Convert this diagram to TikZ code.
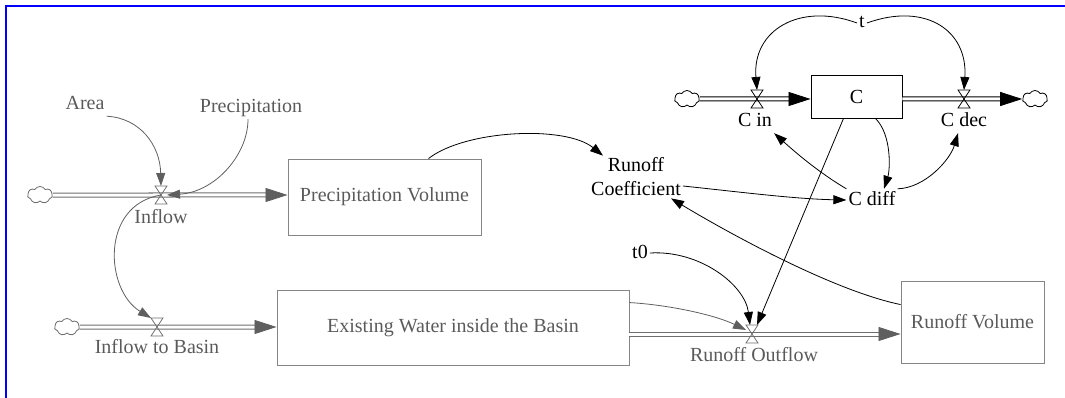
\documentclass[tikz,border=0pt]{standalone}
\usepackage{fontspec}
\setmainfont{Liberation Serif}
\usetikzlibrary{arrows.meta,shapes.symbols}
\definecolor{tgray}{HTML}{5A5A5A}
\definecolor{lgray}{HTML}{5F5F5F}
\definecolor{bgray}{HTML}{858585}
\definecolor{pgray}{HTML}{6E6E6E}
\definecolor{frameblue}{HTML}{0000FF}
\newcommand\lbfont{\fontsize{20}{24}\selectfont}
\begin{document}
\begin{tikzpicture}[x=1pt,y=-1pt,
 lbl/.style={font=\lbfont, text height=14pt, text depth=4pt, inner sep=2pt},
 glbl/.style={lbl, text=tgray},
 twoline/.style={font=\lbfont, inner sep=2pt, align=center},
 stockg/.style={draw=bgray, line width=0.9pt, font=\lbfont, text=tgray, inner sep=0pt},
 stockb/.style={draw=black, line width=0.9pt, font=\lbfont, inner sep=0pt},
 valvept/.style={minimum width=12pt, minimum height=18pt, inner sep=0pt, outer sep=0pt},
 valveg/.style={draw=pgray, line width=0.8pt},
 valveb/.style={draw=black, line width=0.8pt},
 cloudg/.style={cloud, cloud puffs=7, cloud puff arc=120, aspect=1.5, minimum width=25pt, minimum height=17pt, inner sep=0pt, draw=pgray, fill=white, line width=0.8pt},
 cloudb/.style={cloudg, draw=black},
 pipeg/.style={draw=white, line width=3pt, preaction={draw=pgray, line width=5pt}},
 pipeb/.style={draw=white, line width=3pt, preaction={draw=black, line width=5pt}},
 ptipg/.style={draw=lgray, line width=0.8pt, -{Triangle[length=22pt,width=14pt]}},
 ptipb/.style={draw=black, line width=0.8pt, -{Triangle[length=22pt,width=14pt]}},
 conng/.style={draw=lgray, line width=0.8pt, -{Triangle[length=13pt,width=9pt]}},
 connb/.style={draw=black, line width=0.8pt, -{Triangle[length=13pt,width=9pt]}}
]
\useasboundingbox (0,0) rectangle (1065,398);
\draw[frameblue, line width=2.4pt] (6,398) -- (6,6) -- (1065,6);

% stocks
\node[stockg, minimum width=193pt, minimum height=76pt] (pv) at (384.5,197) {Precipitation Volume};
\node[stockg, minimum width=352pt, minimum height=75pt] (ew) at (453,327.5) {Existing Water inside the Basin};
\node[stockg, minimum width=143pt, minimum height=82pt] (rv) at (972.5,322) {Runoff Volume};
\node[stockb, minimum width=91pt, minimum height=43pt] (cbox) at (856.5,96.5) {C};

% valves
\node[valvept] (vin) at (161,195) {};
\node[valvept] (vib) at (157,327) {};
\node[valvept] (ro) at (752,334) {};
\node[valvept] (cinv) at (757,99) {};
\node[valvept] (cdecv) at (964,99) {};

% clouds
\node[cloudg] (cla) at (40,195) {};
\node[cloudg] (clb) at (67,327) {};
\node[cloudb] (clc) at (687,99) {};
\node[cloudb] (cld) at (1035,99) {};

% labels
\node[glbl] (area) at (85,105) {Area};
\node[glbl] (prec) at (251,108) {Precipitation};
\node[glbl] (inflowl) at (161,218) {Inflow};
\node[glbl] (ibl) at (157,348) {Inflow to Basin};
\node[glbl] (rol) at (754,356) {Runoff Outflow};
\node[twoline] (rc) at (636,177) {Runoff\\Coefficient};
\node[lbl] (tz) at (640,253) {t0};
\node[lbl] (t) at (862,23) {t};
\node[lbl] (cinl) at (755,122) {C in};
\node[lbl] (cdecl) at (964,122) {C dec};
\node[lbl] (cdiff) at (872,200) {C diff};

% pipes
\path (vin -| pv.west) coordinate (pvin);
\path (vib -| ew.west) coordinate (ewin);
\path (ro -| ew.east) coordinate (ewout);
\path (ro -| rv.west) coordinate (rvin);
\path (cinv -| cbox.west) coordinate (cbxin);
\path (cdecv -| cbox.east) coordinate (cbxout);
\draw[pipeg] (cla.east) -- ([xshift=-20pt]pvin);
\draw[ptipg] ([xshift=-22pt]pvin) -- (pvin);
\draw[pipeg] (clb.east) -- ([xshift=-20pt]ewin);
\draw[ptipg] ([xshift=-22pt]ewin) -- (ewin);
\draw[pipeg] (ewout) -- ([xshift=-20pt]rvin);
\draw[ptipg] ([xshift=-22pt]rvin) -- (rvin);
\draw[pipeb] (clc.east) -- ([xshift=-20pt]cbxin);
\draw[ptipb] ([xshift=-22pt]cbxin) -- (cbxin);
\draw[pipeb] (cbxout) -- ([xshift=-20pt]cld.west);
\draw[ptipb] ([xshift=-22pt]cld.west) -- (cld.west);

% valve symbols
\foreach \v in {vin,vib,ro}
  \draw[valveg] (\v.north west) -- (\v.north east) -- (\v.south west) -- (\v.south east) -- cycle;
\foreach \v in {cinv,cdecv}
  \draw[valveb] (\v.north west) -- (\v.north east) -- (\v.south west) -- (\v.south east) -- cycle;

% connectors (gray part)
\draw[conng] (area.south east) .. controls (140,118) and (160,145) .. (vin.north);
\draw[conng] ([xshift=-3pt]prec.south) .. controls (248,155) and (215,192) .. (vin.east);
\draw[conng] (vin.center) .. controls (100,205) and (105,290) .. (vib.north west);
\draw[conng] ([yshift=-13pt]ew.north east) .. controls (670,305) and (715,315) .. ([yshift=4pt]ro.west);

% connectors (black part)
\draw[connb] ([xshift=44pt]pv.north) .. controls (465,130) and (565,125) .. ([xshift=14pt]rc.north west);
\draw[connb] ([yshift=-9pt]rc.east) .. controls (740,192) and (795,199) .. (cdiff.west);
\draw[connb] ([xshift=19pt]cbox.south) .. controls (892,135) and (890,170) .. ([xshift=12pt]cdiff.north);
\draw[connb] (cdiff.north west) .. controls (818,172) and (795,152) .. (cinl.south east);
\draw[connb] (cdiff.north east) .. controls (925,188) and (950,160) .. ([xshift=-6pt]cdecl.south);
\draw[connb] (t.west) .. controls (800,2) and (752,30) .. (cinv.north);
\draw[connb] (t.east) .. controls (925,2) and (968,30) .. (cdecv.north);
\draw[connb] ([xshift=-13pt]cbox.south) -- ([xshift=5pt]ro.north);
\draw[connb] (tz.east) .. controls (700,250) and (745,285) .. ([xshift=-2pt]ro.north);
\draw[connb] ([yshift=-24pt]rv.north west) .. controls (830,290) and (720,228) .. ([xshift=-12pt]rc.south east);
\end{tikzpicture}
\end{document}
